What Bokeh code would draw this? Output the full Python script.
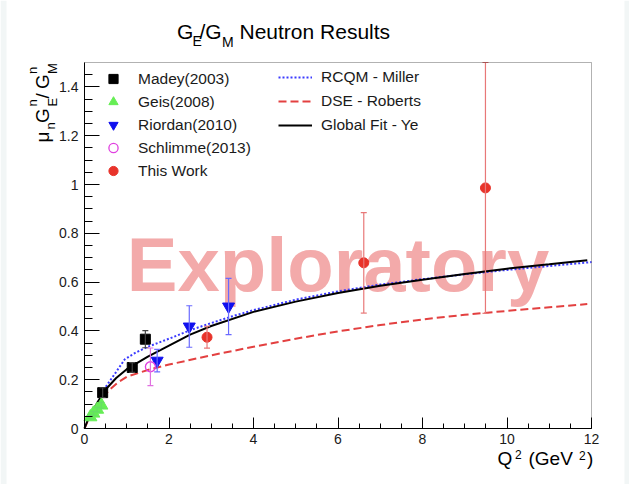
import math
from bokeh.plotting import figure
from bokeh.models import (Range1d, SingleIntervalTicker, NumeralTickFormatter, Whisker,
                          TeeHead, ColumnDataSource, Label, Legend, LegendItem, BoxAnnotation)
from bokeh.embed import file_html
from bokeh.resources import INLINE

# ---------------- data ----------------
madey_q2 = [0.43, 1.13, 1.44]
madey_r = [0.147, 0.250, 0.366]
madey_err = [0.02, 0.02, 0.035]

geis_q2 = [0.14, 0.21, 0.30, 0.40]
geis_r = [0.047, 0.062, 0.078, 0.095]
geis_err = [0.008, 0.008, 0.010, 0.012]

riordan_q2 = [1.72, 2.48, 3.41]
riordan_r = [0.278, 0.418, 0.500]
riordan_err = [0.046, 0.085, 0.115]

schlimme_q2 = [1.56]
schlimme_r = [0.253]
schlimme_err = [0.077]

this_q2 = [2.90, 6.61, 9.49]
this_r = [0.374, 0.679, 0.986]
this_err = [0.045, 0.206, 0.514]

ye_q2 = [0, 0.1, 0.2, 0.3, 0.5, 0.75, 1.0, 1.5, 2.0, 2.5, 3.0, 4.0, 5.0, 6.0,
         7.0, 8.0, 9.0, 10.0, 11.0, 11.9]
ye_r = [0, 0.045, 0.075, 0.105, 0.16, 0.207, 0.243, 0.295, 0.34, 0.385, 0.42,
        0.478, 0.52, 0.555, 0.585, 0.61, 0.633, 0.655, 0.673, 0.69]

miller_q2 = [0.35, 0.5, 0.75, 0.95, 1.2, 1.5, 2.0, 2.5, 3.0, 3.5, 4.0, 5.0, 6.0,
             7.0, 8.0, 9.0, 10.0, 11.0, 12.0]
miller_r = [0.13, 0.17, 0.232, 0.283, 0.31, 0.335, 0.368, 0.403, 0.432, 0.46,
            0.485, 0.528, 0.562, 0.59, 0.612, 0.632, 0.65, 0.666, 0.682]

dse_q2 = [0, 0.1, 0.2, 0.3, 0.4, 0.6, 0.8, 1.0, 1.5, 2.0, 3.0, 4.0, 5.0, 6.0,
          7.0, 8.0, 9.0, 10.0, 11.0, 11.9]
dse_r = [0, 0.04, 0.07, 0.098, 0.122, 0.16, 0.19, 0.212, 0.24, 0.262, 0.30,
         0.335, 0.368, 0.398, 0.424, 0.447, 0.466, 0.482, 0.497, 0.51]

x_axis_range = (0, 12)
y_axis_range = (0, 1.5)

title_parts = ["G", "E", "/G", "M", "Neutron Results"]
ylabel_parts = ["\u03bc", "n", "G", "E", "n", "/", "G", "M", "n"]
xlabel_parts = ["Q", "2", "(GeV", "2", ")"]
watermark = "Exploratory"
legend_points = ["Madey(2003)", "Geis(2008)", "Riordan(2010)", "Schlimme(2013)", "This Work"]
legend_lines = ["RCQM - Miller", "DSE - Roberts", "Global Fit - Ye"]

FONT = "Liberation Sans"
K = 0.42  # empirical baseline correction (fraction of font size)

# ---------------- layout ----------------
W, H = 629, 484
FL, FR, FT, FB = 84, 591, 62, 428  # data box edges in canvas pixels
xs = (x_axis_range[1] - x_axis_range[0]) / (FR - FL)
ys = (y_axis_range[1] - y_axis_range[0]) / (FB - FT)
xr = Range1d(x_axis_range[0] - FL * xs, x_axis_range[1] + (W - FR) * xs)
yr = Range1d(y_axis_range[0] - (H - FB) * ys, y_axis_range[1] + FT * ys)

p = figure(width=W, height=H, x_range=xr, y_range=yr,
           output_backend="svg", toolbar_location=None,
           min_border_left=0, min_border_right=0, min_border_top=0, min_border_bottom=0)
p.xgrid.visible = False
p.ygrid.visible = False
p.background_fill_color = "white"
p.border_fill_color = "white"
p.outline_line_color = None

# faint screenshot edges
for l, r in ((0, 6), (624, W)):
    p.add_layout(BoxAnnotation(left=l, right=r, bottom=0, top=H, left_units="screen",
                               right_units="screen", bottom_units="screen", top_units="screen",
                               fill_color="#f2f6f6", fill_alpha=1, line_alpha=0,
                               level="underlay"))

p.xaxis.fixed_location = 0
p.yaxis.fixed_location = 0
p.xaxis.bounds = x_axis_range
p.yaxis.bounds = y_axis_range
p.xaxis.ticker = SingleIntervalTicker(interval=2, num_minor_ticks=4)
p.yaxis.ticker = SingleIntervalTicker(interval=0.2, num_minor_ticks=4)
p.yaxis.formatter = NumeralTickFormatter(format="0.[0]")
for ax in (p.xaxis, p.yaxis):
    ax.axis_line_color = "black"
    ax.major_tick_line_color = "black"
    ax.minor_tick_line_color = "black"
    ax.major_tick_out = 0
    ax.minor_tick_out = 0
    ax.major_label_text_font = FONT
    ax.major_label_text_font_size = "14px"
    ax.major_label_text_color = "#1a1a1a"
p.xaxis.major_tick_in = 11
p.xaxis.minor_tick_in = 5
p.yaxis.major_tick_in = 15
p.yaxis.minor_tick_in = 8
p.xaxis.major_label_standoff = 5
p.yaxis.major_label_standoff = 6

# frame box around the data region
p.add_layout(BoxAnnotation(left=x_axis_range[0], right=x_axis_range[1],
                           bottom=y_axis_range[0], top=y_axis_range[1],
                           fill_alpha=0, line_color="black", line_width=1, level="overlay"))

# watermark (under glyphs)
p.add_layout(Label(x=6.0, y=0.54, y_offset=K * 76, text=watermark, text_align="center",
                   text_baseline="alphabetic", text_font=FONT, text_font_style="bold",
                   text_font_size="76px", text_color="#f3aaaa", level="underlay"))

# curves
r_miller = p.line(miller_q2, miller_r, line_color="#3a3aff", line_width=2, line_dash="2 2")
r_dse = p.line(dse_q2, dse_r, line_color="#e34040", line_width=2, line_dash="8 4")
r_ye = p.line(ye_q2, ye_r, line_color="black", line_width=2)


def errbars(q, r, e, color):
    src = ColumnDataSource(dict(x=q, lo=[a - b for a, b in zip(r, e)],
                                hi=[a + b for a, b in zip(r, e)]))
    p.add_layout(Whisker(base="x", lower="lo", upper="hi", source=src, dimension="height",
                         line_color=color, line_width=1.2,
                         upper_head=TeeHead(size=6, line_color=color, line_width=1.2),
                         lower_head=TeeHead(size=6, line_color=color, line_width=1.2),
                         level="glyph"))


errbars(madey_q2, madey_r, madey_err, "#444444")
errbars(geis_q2, geis_r, geis_err, "#66dd66")
errbars(riordan_q2, riordan_r, riordan_err, "#6a6aff")
errbars(schlimme_q2, schlimme_r, schlimme_err, "#e070e0")
errbars(this_q2, this_r, this_err, "#e87878")

r_madey = p.scatter(madey_q2, madey_r, marker="square", size=10, color="black")
r_geis = p.scatter(geis_q2, geis_r, marker="triangle", size=13, color="#66ee55")
r_riordan = p.scatter(riordan_q2, riordan_r, marker="inverted_triangle", size=12, color="#1010ee")
r_schlimme = p.scatter(schlimme_q2, schlimme_r, marker="circle", size=10, fill_alpha=0,
                       line_color="#e040e0", line_width=1.3)
r_this = p.scatter(this_q2, this_r, marker="circle", size=10, color="#e8332a")

# legends (location = bottom-left corner, pixels from the canvas bottom-left)
leg1 = Legend(items=[LegendItem(label=t, renderers=[r]) for t, r in
                     zip(legend_points, [r_madey, r_geis, r_riordan, r_schlimme, r_this])],
              location=(100, H - 182), orientation="vertical", padding=0, margin=0, spacing=0,
              glyph_width=26, glyph_height=23, label_height=23, label_standoff=12,
              label_text_font=FONT, label_text_font_size="15.5px", label_text_color="#1a1a1a",
              border_line_alpha=0, background_fill_alpha=0)
leg2 = Legend(items=[LegendItem(label=t, renderers=[r]) for t, r in
                     zip(legend_lines, [r_miller, r_dse, r_ye])],
              location=(278, H - 137), orientation="vertical", padding=0, margin=0, spacing=0,
              glyph_width=34, glyph_height=24, label_height=24, label_standoff=9,
              label_text_font=FONT, label_text_font_size="15.5px", label_text_color="#1a1a1a",
              border_line_alpha=0, background_fill_alpha=0)
p.add_layout(leg1)
p.add_layout(leg2)


def lab(text, px, py, size, angle=0.0):
    # px, py: canvas pixel position (from top-left) of the text baseline start
    corr = K * size
    if angle:
        px -= corr
    else:
        py -= corr
    p.add_layout(Label(x=px, y=H - py, x_units="screen", y_units="screen", text=text,
                       text_font=FONT, text_font_size=f"{size}px", text_color="black",
                       text_align="left", text_baseline="alphabetic", angle=angle))


# title
lab(title_parts[0], 176.5, 40, 21)
lab(title_parts[1], 192, 46.5, 14)
lab(title_parts[2], 199, 40, 21)
lab(title_parts[3], 221.5, 47, 14)
lab(title_parts[4], 239, 40, 21)

# x-axis title
lab(xlabel_parts[0], 497, 466, 19)
lab(xlabel_parts[1], 514.5, 459.5, 12)
lab(xlabel_parts[2], 528, 466, 19)
lab(xlabel_parts[3], 578.5, 460, 12)
lab(xlabel_parts[4], 586.5, 466, 19)

# y-axis title (rotated, reading upwards)
a = math.pi / 2
lab(ylabel_parts[0], 50, 142, 19, a)
lab(ylabel_parts[1], 55, 129, 13, a)
lab(ylabel_parts[2], 50, 122.5, 19, a)
lab(ylabel_parts[3], 57, 106, 13, a)
lab(ylabel_parts[4], 37, 106, 13, a)
lab(ylabel_parts[5], 50, 98, 19, a)
lab(ylabel_parts[6], 50, 88.5, 19, a)
lab(ylabel_parts[7], 57, 73.5, 13, a)
lab(ylabel_parts[8], 37, 73.5, 13, a)

open("out.html", "w").write(file_html(p, INLINE))
